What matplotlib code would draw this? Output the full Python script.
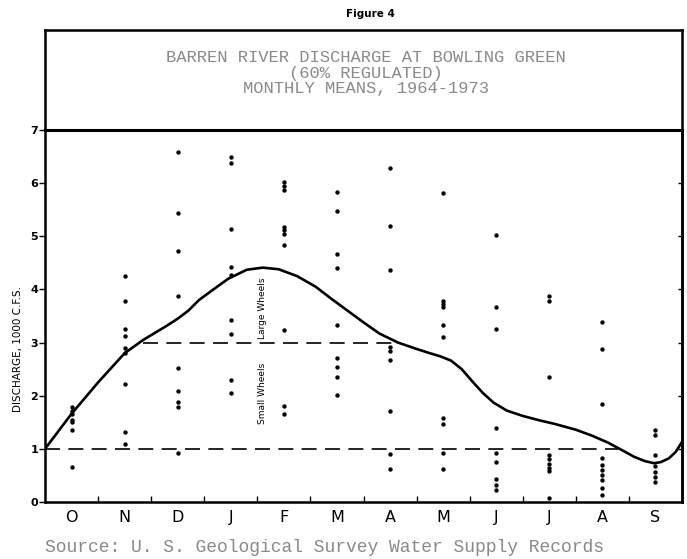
import matplotlib
matplotlib.use("Agg")
from matplotlib import pyplot as plt

# monthly mean discharge, 1000 c.f.s., one list per month (water year Oct-Sep)
months = ["O", "N", "D", "J", "F", "M", "A", "M", "J", "J", "A", "S"]
octMeans = [1.78, 1.72, 1.65, 1.55, 1.5, 1.35, 0.66]
novMeans = [4.26, 3.78, 3.25, 3.12, 2.9, 2.8, 2.22, 1.32, 1.09]
decMeans = [6.58, 5.44, 4.72, 3.87, 2.52, 2.09, 1.89, 1.79, 0.92]
janMeans = [6.5, 6.37, 5.13, 4.42, 4.28, 3.42, 3.17, 2.29, 2.06]
febMeans = [6.02, 5.95, 5.88, 5.18, 5.12, 5.05, 4.84, 3.23, 1.8, 1.66]
marMeans = [5.84, 5.48, 4.66, 4.41, 3.34, 2.71, 2.54, 2.36, 2.02]
aprMeans = [6.28, 5.2, 4.37, 2.92, 2.85, 2.68, 1.72, 0.9, 0.63]
mayMeans = [5.81, 3.78, 3.72, 3.66, 3.33, 3.1, 1.58, 1.47, 0.93, 0.62]
junMeans = [5.03, 3.66, 3.25, 1.39, 0.92, 0.76, 0.43, 0.32, 0.23]
julMeans = [3.88, 3.78, 2.35, 0.89, 0.8, 0.72, 0.64, 0.58, 0.07]
augMeans = [3.38, 2.88, 1.84, 0.82, 0.7, 0.6, 0.51, 0.42, 0.26, 0.13]
sepMeans = [1.36, 1.27, 0.88, 0.68, 0.57, 0.47, 0.38]
allMeans = [octMeans, novMeans, decMeans, janMeans, febMeans, marMeans,
            aprMeans, mayMeans, junMeans, julMeans, augMeans, sepMeans]

# hand drawn mean curve (x in months from 1 Oct)
curveX = [0, 0.5, 1.0, 1.5, 1.85, 2.1, 2.3, 2.5, 2.7, 2.9, 3.2, 3.45, 3.8, 4.1, 4.4, 4.75,
          5.1, 5.4, 5.7, 6.0, 6.3, 6.65, 7.0, 7.25, 7.45, 7.65, 7.85, 8.05, 8.25, 8.45,
          8.7, 9.0, 9.3, 9.6, 10.0, 10.3, 10.6, 10.9, 11.1, 11.3, 11.47, 11.6, 11.75,
          11.88, 12.0]
curveY = [1.0, 1.66, 2.25, 2.8, 3.05, 3.2, 3.32, 3.45, 3.6, 3.8, 4.02, 4.2, 4.37, 4.41,
          4.38, 4.25, 4.05, 3.82, 3.6, 3.38, 3.17, 3.0, 2.88, 2.8, 2.74, 2.66, 2.5, 2.27,
          2.05, 1.87, 1.72, 1.62, 1.54, 1.47, 1.36, 1.25, 1.12, 0.96, 0.85, 0.77, 0.73,
          0.75, 0.82, 0.94, 1.13]

# wheel thresholds: level, start, end
largeWheel = [3.0, 1.85, 6.65]
smallWheel = [1.0, 0.0, 10.8]

W, H = 687, 559
fig = plt.figure(figsize=(W / 100, H / 100), dpi=100)

# title box
tbox = fig.add_axes([45 / W, 1 - 130 / H, 637 / W, 100 / H])
tbox.set_xticks([])
tbox.set_yticks([])
for s in tbox.spines.values():
    s.set_linewidth(1.8)
titleLines = ["BARREN RIVER DISCHARGE AT BOWLING GREEN", "(60% REGULATED)", "MONTHLY MEANS, 1964-1973"]
for i, line in enumerate(titleLines):
    fig.text(366 / W, 1 - (58 + 15.5 * i) / H, line, family="Liberation Mono", fontsize=12.3,
             color="#8a8a8a", ha="center", va="center")
fig.text(370 / W, 1 - 14 / H, "Figure 4", fontsize=7.5, fontweight="bold", ha="center", va="center")

ax = fig.add_axes([45 / W, 1 - 502 / H, 637 / W, 372 / H])
for i, vals in enumerate(allMeans):
    ax.scatter([i + 0.5] * len(vals), vals, s=10, color="black", zorder=3, linewidths=0)
ax.plot(curveX, curveY, color="black", linewidth=1.9, zorder=4, solid_joinstyle="round")
for level, x0, x1 in [largeWheel, smallWheel]:
    ax.plot([x0, x1], [level, level], color="black", linewidth=1.2, dashes=(9, 5))

ax.text(4.1, 3.65, "Large Wheels", rotation=90, fontsize=6.5, ha="center", va="center")
ax.text(4.1, 2.05, "Small Wheels", rotation=90, fontsize=6.5, ha="center", va="center")

ax.set_xlim(0, 12)
ax.set_ylim(0, 7)
for s in ax.spines.values():
    s.set_linewidth(1.8)
ax.spines["top"].set_linewidth(2.2)

ax.set_xticks(range(1, 12))
ax.set_xticklabels([])
ax.tick_params(axis="x", which="major", direction="in", length=4, width=1)
ax.set_xticks([i + 0.5 for i in range(12)], minor=True)
ax.set_xticklabels(months, minor=True)
ax.tick_params(axis="x", which="minor", length=0, pad=6, labelsize=11.5)

ax.set_yticks(range(8))
ax.tick_params(axis="y", direction="out", length=4, width=1, labelsize=8, pad=1)
for lab in ax.get_yticklabels():
    lab.set_fontweight("bold")
sec = ax.secondary_yaxis("right")
sec.set_yticks(range(1, 7))
sec.set_yticklabels([])
sec.tick_params(direction="in", length=3, width=1)
sec.spines["right"].set_linewidth(1.8)

fig.text(18 / W, 1 - 349 / H, "DISCHARGE, 1000 C.F.S.", rotation=90, fontsize=7.5,
         ha="center", va="center")
fig.text(45 / W, 1 - 548 / H, "Source: U. S. Geological Survey Water Supply Records",
         family="Liberation Mono", fontsize=13, color="#8a8a8a", ha="left", va="center")

fig.savefig("out.png", dpi=100)
